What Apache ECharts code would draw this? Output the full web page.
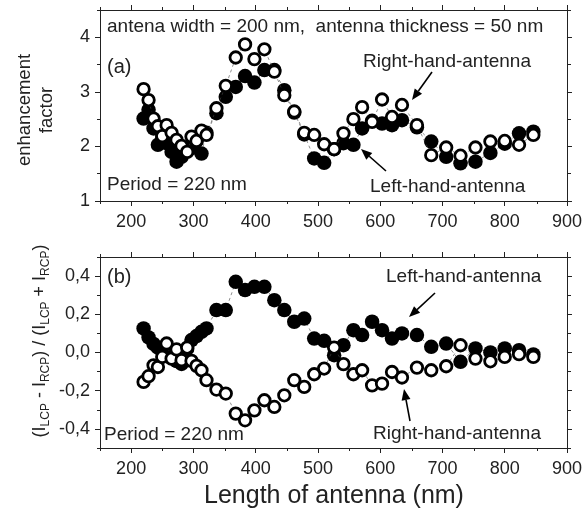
<!DOCTYPE html>
<html>
<head>
<meta charset="utf-8">
<script src="https://cdn.jsdelivr.net/npm/echarts@6/dist/echarts.min.js"></script>
<style>
  html, body { margin: 0; padding: 0; background: #fff; }
  #chart { width: 585px; height: 511px; }
</style>
</head>
<body>
<div id="chart"></div>
<script>
// Antenna lengths (nm) shared by all four series
const lengths = [220, 228, 236, 243, 250, 257, 265, 273, 281, 290, 297, 305, 313, 321, 337, 352, 368, 383, 398, 414, 430, 446, 462, 478, 494, 510, 526, 541, 557, 571, 587, 603, 619, 635, 659, 682, 706, 729, 753, 777, 800, 823, 846];

// (a) enhancement factor
const enhLeft = [2.51, 2.67, 2.33, 2.03, 2.15, 2.06, 1.90, 1.72, 1.81, 1.95, 1.97, 2.10, 1.87, 2.25, 2.61, 2.91, 3.09, 3.29, 3.17, 3.40, 3.40, 3.03, 2.62, 2.22, 1.78, 1.70, 1.95, 2.06, 2.03, 2.33, 2.47, 2.42, 2.39, 2.48, 2.35, 2.09, 1.81, 1.69, 1.72, 1.88, 2.05, 2.24, 2.27];
const enhRight = [3.05, 2.85, 2.51, 2.37, 2.19, 2.39, 2.25, 2.12, 2.01, 1.90, 2.18, 2.10, 2.29, 2.21, 2.70, 3.11, 3.63, 3.87, 3.60, 3.78, 3.37, 2.94, 2.64, 2.25, 2.21, 2.04, 1.95, 2.24, 2.50, 2.72, 2.45, 2.86, 2.54, 2.76, 2.39, 1.84, 1.98, 1.83, 1.98, 2.09, 2.10, 2.03, 2.21];

// (b) circular-polarisation asymmetry (I_LCP - I_RCP)/(I_LCP + I_RCP)
const asymLeft = [0.126, 0.079, 0.045, 0.025, 0.01, -0.01, -0.03, -0.045, -0.06, 0.02, 0.065, 0.086, 0.108, 0.126, 0.222, 0.222, 0.37, 0.327, 0.344, 0.344, 0.274, 0.222, 0.161, 0.178, 0.073, 0.061, -0.014, 0.038, 0.117, 0.091, 0.161, 0.117, 0.073, 0.1, 0.091, 0.03, 0.047, -0.049, 0.021, 0.0, 0.021, 0.012, -0.01];
const asymRight = [-0.154, -0.124, -0.067, -0.076, -0.023, 0.047, -0.032, 0.016, -0.04, 0.026, -0.044, -0.07, -0.093, -0.145, -0.194, -0.215, -0.32, -0.355, -0.303, -0.25, -0.285, -0.224, -0.145, -0.18, -0.114, -0.084, 0.026, -0.061, -0.114, -0.093, -0.172, -0.163, -0.102, -0.131, -0.079, -0.093, -0.072, 0.038, -0.032, -0.046, -0.023, -0.009, -0.023];

// Tick positions
const xMajor = [200, 300, 400, 500, 600, 700, 800, 900];
const xMinor = [150, 250, 350, 450, 550, 650, 750, 850];
const yMajorA = [1, 2, 3, 4];
const yMinorA = [1.5, 2.5, 3.5, 4.5];
const yMajorB = [-0.4, -0.2, 0.0, 0.2, 0.4];
const yMinorB = [-0.5, -0.3, -0.1, 0.1, 0.3, 0.5];

const FONT = '"Liberation Sans", Arial, sans-serif';
const INK = '#222';

const chart = echarts.init(document.getElementById('chart'));

const gridA = { left: 100, right: 17, top: 10, height: 191 };
const gridB = { left: 100, right: 17, top: 257, height: 191 };

function xAxisPair(gridIndex, ticks, major, labels) {
  const base = {
    type: 'value', gridIndex, min: 150, max: 900, interval: 50,
    splitLine: { show: false },
    axisLine: { show: major, onZero: false, lineStyle: { color: INK, width: 1 } },
    axisTick: { show: true, inside: false, length: major ? 5 : 3, customValues: ticks, lineStyle: { color: INK, width: 1 } },
  };
  return [
    Object.assign({}, base, {
      position: 'bottom',
      axisLabel: labels ? { show: true, customValues: ticks, margin: 12, fontFamily: FONT, fontSize: 18, color: INK } : { show: false }
    }),
    Object.assign({}, base, { position: 'top', axisLabel: { show: false } })
  ];
}

function yAxisPair(gridIndex, min, max, ticks, major, fmt) {
  const base = {
    type: 'value', gridIndex, min, max,
    splitLine: { show: false },
    axisLine: { show: major, onZero: false, lineStyle: { color: INK, width: 1 } },
    axisTick: { show: true, inside: false, length: major ? 5 : 3, customValues: ticks, lineStyle: { color: INK, width: 1 } },
  };
  return [
    Object.assign({}, base, {
      position: 'left',
      axisLabel: fmt ? { show: true, customValues: ticks, margin: 10, fontFamily: FONT, fontSize: 18, color: INK, formatter: fmt } : { show: false }
    }),
    Object.assign({}, base, { position: 'right', axisLabel: { show: false } })
  ];
}

const fmtA = v => String(Math.round(v));
const fmtB = v => v.toFixed(1).replace('.', ',').replace('-0,0', '0,0');

function pairs(ys) { return lengths.map((x, i) => [x, ys[i]]); }

const joinLine = { color: '#444', width: 0.6, type: [3, 3] };
function filledSeries(xi, yi, ys) {
  return {
    type: 'line', xAxisIndex: xi, yAxisIndex: yi, data: pairs(ys),
    symbol: 'circle', symbolSize: 14.5, showSymbol: true,
    itemStyle: { color: '#000', borderColor: '#000', borderWidth: 0 },
    lineStyle: joinLine, animation: false, z: 2
  };
}
function openSeries(xi, yi, ys) {
  return {
    type: 'line', xAxisIndex: xi, yAxisIndex: yi, data: pairs(ys),
    symbol: 'circle', symbolSize: 11.5, showSymbol: true,
    itemStyle: { color: '#fff', borderColor: '#000', borderWidth: 2.8 },
    lineStyle: joinLine, animation: false, z: 3
  };
}

function txt(x, y, text, size, align) {
  return {
    type: 'text', x, y, z: 10,
    style: { text, fontFamily: FONT, fontSize: size || 19, fill: INK, align: align || 'left', verticalAlign: 'middle' }
  };
}
function arrow(x1, y1, x2, y2) {
  // shaft from (x1,y1) to tip (x2,y2) with a filled head
  const ang = Math.atan2(y2 - y1, x2 - x1);
  const L = 11, W = 4.5;
  const bx = x2 - L * Math.cos(ang), by = y2 - L * Math.sin(ang);
  const px = -Math.sin(ang) * W, py = Math.cos(ang) * W;
  return [
    { type: 'line', z: 10, shape: { x1, y1, x2: bx, y2: by }, style: { stroke: '#000', lineWidth: 1.6 } },
    { type: 'polygon', z: 10, shape: { points: [[x2, y2], [bx + px, by + py], [bx - px, by - py]] }, style: { fill: '#000' } }
  ];
}

const xAxes = [].concat(
  xAxisPair(0, xMajor, true, true),
  xAxisPair(1, xMajor, true, true),
  xAxisPair(2, xMinor, false, false),
  xAxisPair(3, xMinor, false, false)
);
const yAxes = [].concat(
  yAxisPair(0, 1, 4.5, yMajorA, true, fmtA),
  yAxisPair(1, -0.5, 0.5, yMajorB, true, fmtB),
  yAxisPair(2, 1, 4.5, yMinorA, false, null),
  yAxisPair(3, -0.5, 0.5, yMinorB, false, null)
);

const subRich = { s: { fontFamily: FONT, fontSize: 12, fill: INK, padding: [11, 0, 0, 0] } };

chart.setOption({
  backgroundColor: '#fff',
  animation: false,
  grid: [gridA, gridB, gridA, gridB],
  xAxis: xAxes,
  yAxis: yAxes,
  series: [
    filledSeries(0, 0, enhLeft),
    openSeries(0, 0, enhRight),
    filledSeries(2, 2, asymLeft),
    openSeries(2, 2, asymRight)
  ],
  graphic: [
    // panel (a)
    txt(107, 27, 'antena width = 200 nm,  antenna thickness = 50 nm'),
    txt(107, 67, '(a)', 20),
    txt(363, 62, 'Right-hand-antenna'),
    txt(107, 185, 'Period = 220 nm'),
    txt(370, 187, 'Left-hand-antenna'),
    ...arrow(432, 72, 412, 100),
    ...arrow(386, 171, 361, 149),
    // panel (b)
    txt(107, 277, '(b)', 20),
    txt(386, 277, 'Left-hand-antenna'),
    txt(104, 435, 'Period = 220 nm'),
    txt(373, 434, 'Right-hand-antenna'),
    ...arrow(435, 293, 409, 317),
    ...arrow(410, 421, 404, 389),
    // axis titles
    { type: 'text', x: 25, y: 110, rotation: Math.PI / 2, z: 10,
      style: { text: 'enhancement', fontFamily: FONT, fontSize: 18.5, fill: INK, align: 'center', verticalAlign: 'middle' } },
    { type: 'text', x: 47, y: 110, rotation: Math.PI / 2, z: 10,
      style: { text: 'factor', fontFamily: FONT, fontSize: 18.5, fill: INK, align: 'center', verticalAlign: 'middle' } },
    { type: 'text', x: 40, y: 341, rotation: Math.PI / 2, z: 10,
      style: { text: '(I{s|LCP} - I{s|RCP}) / (I{s|LCP} + I{s|RCP})', rich: subRich, fontFamily: FONT, fontSize: 18, fill: INK, align: 'center', verticalAlign: 'middle' } },
    { type: 'text', x: 334, y: 496, z: 10,
      style: { text: 'Length of antenna (nm)', fontFamily: FONT, fontSize: 25, fill: INK, align: 'center', verticalAlign: 'middle' } }
  ]
});
</script>
</body>
</html>
